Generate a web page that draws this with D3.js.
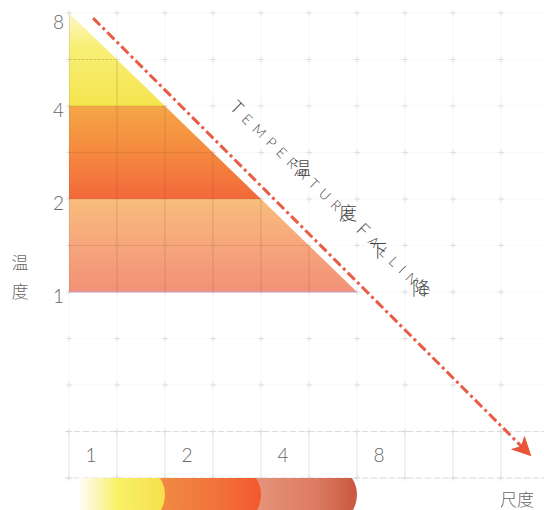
<!DOCTYPE html>
<html>
<head>
<meta charset="utf-8">
<script src="https://cdn.jsdelivr.net/npm/d3@7"></script>
<style>
  html, body { margin: 0; padding: 0; background: #fff; }
  svg { display: block; }
</style>
</head>
<body>
<svg id="chart" width="544" height="510"></svg>
<script>
// ---------- data ----------
const tempTicks = [1, 2, 4, 8];           // 温度 axis (log2)
const scaleTicks = [1, 2, 4, 8];          // 尺度 axis (log2)
const tempBands = [[4, 8], [2, 4], [1, 2]];   // temperature bands (low, high)
const scaleBands = [[1, 2], [2, 4], [4, 8]];  // scale bands shown in bottom bar
const product = 8;                         // hypotenuse: 尺度 × 温度 = 8
const arrowFrom = [1.19, 7.7];             // dash-dot trend arrow (尺度, 温度)
const arrowTo = [27.9, 0.297];
const titleEn = "TEMPERATURE FALLING";
const titleCn = ["温", "度", "下", "降"];
const titleCnAt = [[5.38, 2.54], [7.5, 1.816], [9.31, 1.378], [12.7, 1.038]];
const titleEnAt = [3.17, 3.93];
const yTitle = ["温", "度"];
const xTitle = "尺度";

// ---------- scales ----------
const W = 544, H = 510;
const x = d3.scaleLog().base(2).domain([1, 8]).range([69, 357]);
const y = d3.scaleLog().base(2).domain([1, 8]).range([292, 13]);

const svg = d3.select("#chart");
const defs = svg.append("defs");

// grid values (half-doubling steps)
const gridX = d3.range(0, 11).map(k => Math.pow(2, k / 2));
const gridY = d3.range(-4, 7).map(k => Math.pow(2, k / 2));
const stripTop = Math.pow(2, -1.5), stripBottom = Math.pow(2, -2);

// faint background grid
const bg = svg.append("g");
bg.selectAll("line.gv").data(gridX).join("line")
  .attr("x1", d => x(d)).attr("x2", d => x(d))
  .attr("y1", y(8)).attr("y2", y(stripBottom))
  .attr("stroke", "#f5f5f5").attr("stroke-width", 0.6);
bg.selectAll("line.gh").data(gridY).join("line")
  .attr("y1", d => y(d)).attr("y2", d => y(d))
  .attr("x1", x(1)).attr("x2", W)
  .attr("stroke", "#f5f5f5").attr("stroke-width", 0.6);

// crosses at intersections
const crosses = [];
gridX.forEach(gx => gridY.forEach(gy => crosses.push([gx, gy])));
const cr = bg.selectAll("g.cross").data(crosses).join("g")
  .attr("transform", d => `translate(${x(d[0])},${y(d[1])})`);
cr.append("line").attr("x1", -3).attr("x2", 3).attr("stroke", "#d9d9d9").attr("stroke-width", 0.8);
cr.append("line").attr("y1", -3).attr("y2", 3).attr("stroke", "#d9d9d9").attr("stroke-width", 0.8);

// strip for scale labels
const strip = svg.append("g");
[stripTop, stripBottom].forEach(v => {
  strip.append("line").attr("x1", x(1) - 4).attr("x2", W)
    .attr("y1", y(v)).attr("y2", y(v))
    .attr("stroke", "#d6d6d6").attr("stroke-width", 0.8).attr("stroke-dasharray", "6,3");
});
strip.selectAll("line.sv").data(gridX).join("line")
  .attr("x1", d => x(d)).attr("x2", d => x(d))
  .attr("y1", y(stripTop)).attr("y2", y(stripBottom))
  .attr("stroke", "#e0e0e0").attr("stroke-width", 0.8);

// ---------- triangle with bands ----------
const tri = [[1, 1], [1, 8], [product, 1]];
defs.append("clipPath").attr("id", "triClip")
  .append("polygon").attr("points", tri.map(p => [x(p[0]), y(p[1])].join(",")).join(" "));

const bandStops = [
  [["0%", "#fcf6cc"], ["35%", "#f8f078"], ["100%", "#f4e44e"]],
  [["0%", "#f4a646"], ["50%", "#f5893f"], ["100%", "#f2683a"]],
  [["0%", "#f8bd7c"], ["50%", "#f6a67c"], ["100%", "#f29176"]]
];
tempBands.forEach((b, i) => {
  const g = defs.append("linearGradient").attr("id", "band" + i)
    .attr("x1", 0).attr("y1", 0).attr("x2", 0).attr("y2", 1);
  bandStops[i].forEach(s => g.append("stop").attr("offset", s[0]).attr("stop-color", s[1]));
});
const triG = svg.append("g").attr("clip-path", "url(#triClip)");
triG.selectAll("rect.band").data(tempBands).join("rect")
  .attr("x", x(1)).attr("width", x(product) - x(1))
  .attr("y", d => y(d[1])).attr("height", d => y(d[0]) - y(d[1]))
  .attr("fill", (d, i) => `url(#band${i})`);
// inner grid
triG.selectAll("line.iv").data(gridX).join("line")
  .attr("x1", d => x(d)).attr("x2", d => x(d)).attr("y1", y(8)).attr("y2", y(1))
  .attr("stroke", "#8a4a36").attr("stroke-opacity", 0.3).attr("stroke-width", 0.8);
triG.selectAll("line.ih").data(gridY.filter(v => v >= 1)).join("line")
  .attr("y1", d => y(d)).attr("y2", d => y(d)).attr("x1", x(1)).attr("x2", x(product))
  .attr("stroke", "#8a4a36").attr("stroke-opacity", 0.3).attr("stroke-width", 0.8)
  .attr("stroke-dasharray", "3,1");
svg.append("line").attr("x1", x(1)).attr("x2", x(product)).attr("y1", y(1)).attr("y2", y(1))
  .attr("stroke", "#c9a2cf").attr("stroke-width", 1.2);

// ---------- bottom colour bar ----------
const barStops = [
  [["0%", "#ffffff"], ["15%", "#fdf8d2"], ["45%", "#f8f168"], ["100%", "#f7df4c"]],
  [["0%", "#f08a44"], ["60%", "#f2703a"], ["100%", "#f4582e"]],
  [["0%", "#e4947a"], ["60%", "#dc7a62"], ["100%", "#c9583f"]]
];
scaleBands.forEach((b, i) => {
  const g = defs.append("linearGradient").attr("id", "bar" + i)
    .attr("x1", 0).attr("y1", 0).attr("x2", 1).attr("y2", 0);
  barStops[i].forEach(s => g.append("stop").attr("offset", s[0]).attr("stop-color", s[1]));
});
const barTop = y(stripBottom);
const bulge = 5;
svg.append("g").selectAll("path").data(scaleBands.map((b, i) => ({ b, i })).reverse()).join("path")
  .attr("d", d => {
    const x0 = x(d.b[0]) + (d.i === 0 ? 8 : -bulge), x1 = x(d.b[1]) - bulge;
    return `M${x0},${barTop} L${x1},${barTop} Q${x1 + 2 * bulge},${(barTop + H) / 2} ${x1},${H + 2} L${x0},${H + 2} Z`;
  })
  .attr("fill", d => `url(#bar${d.i})`);

// ---------- arrow ----------
defs.append("marker").attr("id", "head")
  .attr("viewBox", "0 0 10 10").attr("refX", 9).attr("refY", 5)
  .attr("markerWidth", 8).attr("markerHeight", 6.5).attr("markerUnits", "strokeWidth")
  .attr("orient", "auto")
  .append("path").attr("d", "M0,0 L10,5 L0,10 L2.5,5 Z").attr("fill", "#ec5438");
svg.append("line")
  .attr("x1", x(arrowFrom[0])).attr("y1", y(arrowFrom[1]))
  .attr("x2", x(arrowTo[0])).attr("y2", y(arrowTo[1]))
  .attr("stroke", "#e95b44").attr("stroke-width", 3)
  .attr("stroke-dasharray", "10,3.5,3,3.5")
  .attr("marker-end", "url(#head)");

// ---------- rotated title (small caps, letter by letter) ----------
const tp = [x(titleEnAt[0]), y(titleEnAt[1])];
const ang = Math.atan2(y(1) - y(8), x(product) - x(1)) * 180 / Math.PI;
const enG = svg.append("g").attr("transform", `translate(${tp[0]},${tp[1]}) rotate(${ang})`);
const chars = titleEn.split("").map((c, i, arr) => ({
  c, big: i === 0 || arr[i - 1] === " "
}));
const letters = enG.selectAll("text").data(chars).join("text")
  .attr("font-family", "Lato, 'Open Sans', sans-serif")
  .attr("font-weight", 300)
  .attr("font-size", d => d.big ? 18 : 14)
  .attr("fill", "#4a4a4a")
  .text(d => d.c);
const widths = letters.nodes().map(n => n.getComputedTextLength());
const totalLen = 272;
const gap = (totalLen - d3.sum(widths)) / (chars.length - 1);
let acc = 0;
letters.attr("x", (d, i) => { const v = acc; acc += widths[i] + gap; return v; });

svg.append("g").selectAll("text").data(titleCn).join("text")
  .attr("x", (d, i) => x(titleCnAt[i][0])).attr("y", (d, i) => y(titleCnAt[i][1]))
  .attr("text-anchor", "middle").attr("dominant-baseline", "central")
  .attr("font-family", "'Noto Sans CJK SC', sans-serif").attr("font-weight", 300)
  .attr("font-size", 18).attr("fill", "#444").text(d => d);

// ---------- axes labels ----------
const numFont = "Lato, 'Open Sans', sans-serif";
svg.append("g").selectAll("text").data(tempTicks).join("text")
  .attr("x", x(1) - 5).attr("y", d => Math.max(y(d) + 3, 21))
  .attr("text-anchor", "end").attr("dominant-baseline", "central")
  .attr("font-family", numFont).attr("font-weight", 300).attr("font-size", 19)
  .attr("fill", "#666").text(d => d);

svg.append("g").selectAll("text").data(scaleTicks).join("text")
  .attr("x", d => x(d * Math.pow(2, 0.25)) - 2)
  .attr("y", y(Math.pow(2, -1.75)))
  .attr("text-anchor", "middle").attr("dominant-baseline", "central")
  .attr("font-family", numFont).attr("font-weight", 300).attr("font-size", 19)
  .attr("fill", "#666").text(d => d);

svg.append("g").selectAll("text").data(yTitle).join("text")
  .attr("x", 20).attr("y", (d, i) => y(1) - 31 + i * 29)
  .attr("text-anchor", "middle").attr("dominant-baseline", "central")
  .attr("font-family", "'Noto Sans CJK SC', sans-serif").attr("font-weight", 300)
  .attr("font-size", 17).attr("fill", "#666").text(d => d);

svg.append("text")
  .attr("x", 517).attr("y", 498)
  .attr("text-anchor", "middle").attr("dominant-baseline", "central")
  .attr("font-family", "'Noto Sans CJK SC', sans-serif").attr("font-weight", 300)
  .attr("font-size", 17).attr("fill", "#666").text(xTitle);
</script>
</body>
</html>
